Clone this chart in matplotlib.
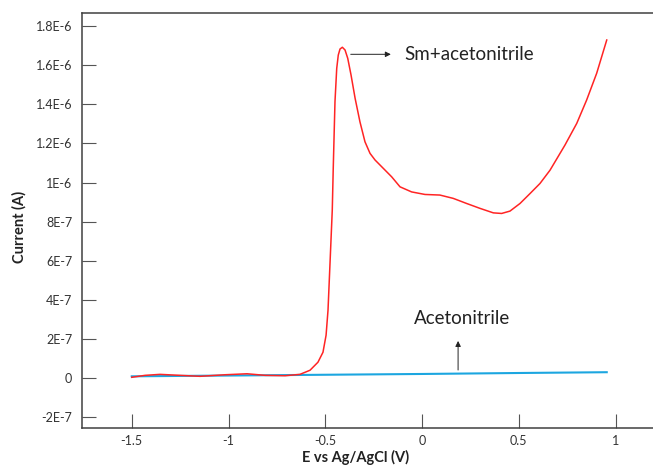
import numpy as np
import matplotlib.pyplot as plt

plt.rcParams['font.family'] = ['Lato', 'DejaVu Sans']

# Sm + acetonitrile voltammogram (E in V, current in uA -> A)
sm_E = [-1.5, -1.431, -1.354, -1.251, -1.147, -1.018, -0.904, -0.811, -0.708,
        -0.631, -0.579, -0.538, -0.512, -0.496, -0.486, -0.475, -0.464, -0.459,
        -0.450, -0.441, -0.433, -0.424, -0.412, -0.398, -0.384, -0.367, -0.346,
        -0.321, -0.295, -0.269, -0.243, -0.200, -0.157, -0.114, -0.054, 0.015,
        0.092, 0.161, 0.230, 0.299, 0.368, 0.411, 0.454, 0.506, 0.558, 0.609,
        0.661, 0.738, 0.799, 0.850, 0.902, 0.954]
sm_I = [0.005, 0.015, 0.020, 0.015, 0.010, 0.018, 0.023, 0.015, 0.013,
        0.020, 0.041, 0.082, 0.133, 0.220, 0.348, 0.603, 0.859, 1.072,
        1.413, 1.583, 1.651, 1.682, 1.691, 1.677, 1.634, 1.549, 1.430,
        1.310, 1.208, 1.149, 1.115, 1.072, 1.029, 0.978, 0.952, 0.939,
        0.936, 0.919, 0.893, 0.868, 0.845, 0.842, 0.854, 0.893, 0.944, 0.995,
        1.063, 1.191, 1.302, 1.421, 1.558, 1.728]
sm_I = np.array(sm_I) * 1e-6

# Acetonitrile blank
ac_E = [-1.5, -1.0, -0.5, 0.0, 0.5, 0.954]
ac_I = np.array([0.010, 0.014, 0.018, 0.022, 0.027, 0.031]) * 1e-6

yticks = [-2e-7, 0, 2e-7, 4e-7, 6e-7, 8e-7, 1e-6, 1.2e-6, 1.4e-6, 1.6e-6, 1.8e-6]
ylabels = ['-2E-7', '0', '2E-7', '4E-7', '6E-7', '8E-7', '1E-6', '1.2E-6', '1.4E-6', '1.6E-6', '1.8E-6']
xticks = [-1.5, -1, -0.5, 0, 0.5, 1]
xlabels = ['-1.5', '-1', '-0.5', '0', '0.5', '1']

fig = plt.figure(figsize=(6.53, 4.66), dpi=100)
ax = fig.add_axes([82/653, 1 - 428/466, 1 - 82/653, (428 - 13)/466])

ax.plot(ac_E, ac_I, color='#1ca6e0', lw=1.5)
ax.plot(sm_E, sm_I, color='#ff2424', lw=1.1)

ax.set_xlim(-1.757, 1.193)
ax.set_ylim(-2.54e-7, 1.866e-6)
ax.set_xticks(xticks)
ax.set_xticklabels(xlabels)
ax.set_yticks(yticks)
ax.set_yticklabels(ylabels)
ax.tick_params(direction='in', length=10, width=0.8, color='#555555',
               labelsize=9, labelcolor='#333333')
ax.tick_params(axis='y', pad=7)
ax.tick_params(axis='x', pad=5)

for s in ['left', 'bottom', 'top']:
    ax.spines[s].set_color('#404040')
    ax.spines[s].set_linewidth(1.1)
ax.spines['right'].set_visible(False)

ax.set_xlabel('E vs Ag/AgCl (V)', fontsize=10.5, fontweight='bold', color='#222222',
              va='center')
ax.set_ylabel('Current (A)', fontsize=10.5, fontweight='bold', color='#222222',
              va='center')
ax.xaxis.set_label_coords(0.479, -0.072)
ax.yaxis.set_label_coords(-0.110, 0.485)

# annotations
ax.annotate('', xy=(-0.147, 1.655e-6), xytext=(-0.383, 1.655e-6),
            arrowprops=dict(arrowstyle='-|>', color='#222222', lw=0.7,
                            mutation_scale=8))
ax.text(-0.092, 1.655e-6, 'Sm+acetonitrile', fontsize=13.5, color='#222222',
        va='center', ha='left')
ax.annotate('', xy=(0.186, 0.205e-6), xytext=(0.186, 0.028e-6),
            arrowprops=dict(arrowstyle='-|>', color='#222222', lw=0.7,
                            mutation_scale=8))
ax.text(0.207, 0.306e-6, 'Acetonitrile', fontsize=13.5, color='#222222',
        va='center', ha='center')

fig.savefig('out.png', dpi=100)
